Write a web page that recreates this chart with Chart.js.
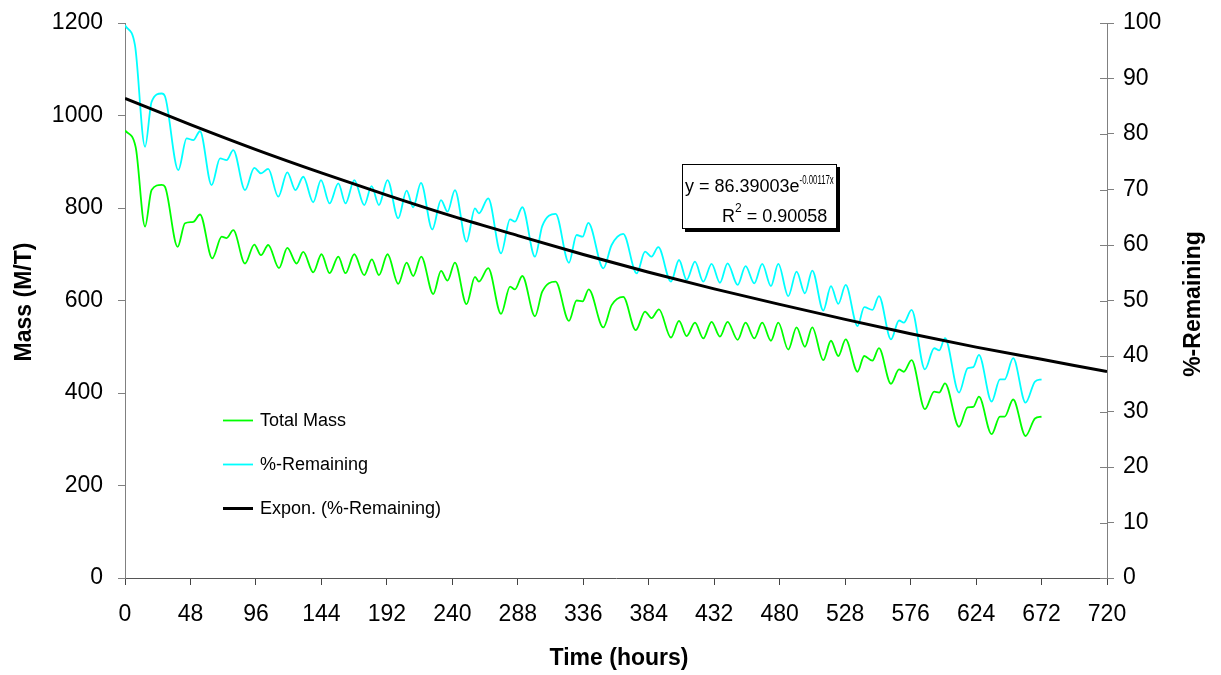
<!DOCTYPE html>
<html>
<head>
<meta charset="utf-8">
<script src="https://cdn.jsdelivr.net/npm/chart.js@4.4.1/dist/chart.umd.min.js"></script>
<style>
  body { margin: 0; background: #fff; }
  canvas { display: block; }
</style>
</head>
<body>
<canvas id="myChart" width="1221" height="675"></canvas>
<script>
// values (peaks / troughs of each daily swing)
const massHours = [0, 7.8, 14.7, 19.5, 26.9, 29.3, 38.6, 44, 50.1, 55, 64, 70.9, 74.5, 79.4, 88, 94.8, 99.7, 105, 112.9, 119, 125.8, 130.7, 138, 144.1,
  150, 156.4, 161.7, 168.1, 175.4, 181, 186.2, 192.5, 200.3, 206.5, 211.3, 217.2, 226, 231.7, 236.5, 241.9, 250.4, 256.6, 259.5, 266.3, 275.7,
  282.3, 285.9, 291.3, 300.6, 305.9, 315.7, 325.5, 331.1, 335.5, 340, 350.7, 356.8, 365.3, 374.5, 381.3, 386, 391.5, 400.3, 406.2, 411.8,
  417.9, 424, 430.1, 436.2, 441.8, 449.2, 455, 461.4, 467.2, 473.6, 479, 486.3, 492.4, 498.5, 503.9, 512, 517.6, 523, 528.4, 537.1, 542,
  548, 552.8, 561.6, 567.5, 571, 576.7, 586.5, 593.3, 597, 601.2, 611.5, 617.8, 622, 626.1, 635.4, 641.5, 645, 651.2, 660.3, 667.2, 672];
const massValues = [968, 932, 760, 839, 850, 846, 716, 767, 770, 786, 691, 738, 735, 752, 680, 721, 698, 720, 670, 714, 680, 705, 661, 700,
  659, 695, 659, 700, 655, 689, 655, 700, 636, 682, 653, 695, 614, 664, 643, 682, 592, 651, 641, 670, 571,
  630, 624, 653, 566, 619, 641, 556, 600, 598, 624, 542, 590, 608, 536, 576, 562, 581, 520, 556, 523,
  552, 518, 554, 522, 554, 515, 552, 518, 552, 513, 552, 494, 542, 500, 542, 471, 513, 480, 516, 446, 480,
  470, 497, 420, 451, 446, 471, 365, 403, 401, 421, 327, 369, 370, 392, 311, 349, 349, 386, 307, 345, 349];

const pctHours = [0, 7.3, 14.7, 19.5, 26.9, 29.3, 39.1, 45.2, 50.1, 55, 63.5, 69.7, 74.5, 79.4, 88, 94.8, 99.7, 105, 112.4, 119, 125, 130.7, 138, 143.7,
  150, 156.4, 161.7, 168.1, 175.4, 180.8, 186.2, 192.5, 200.3, 206.5, 211.3, 217, 225.3, 231.7, 236.5, 241.9, 250.4, 256.6, 259.5, 266.3, 275.7,
  282.3, 285.9, 291.3, 300.6, 305.9, 315.7, 325.5, 331.1, 335.5, 339.7, 350.7, 356.8, 365.3, 375.2, 381.3, 386, 391, 400.3, 406.2, 411.8,
  417.9, 424, 430.1, 436.2, 441.8, 449.2, 455, 461.4, 467.2, 473.6, 479, 486.3, 492.4, 498.5, 503.9, 512, 517.6, 523, 528.4, 537.1, 542,
  548, 552.8, 561.6, 567.5, 571, 576.7, 586.5, 593.3, 597, 601.2, 611.5, 617.8, 622, 626.1, 635.4, 641.5, 645, 651.2, 660.3, 667.2, 672];
const pctValues = [99.6, 96, 77.7, 85.8, 87.3, 86.8, 73.5, 79.2, 78.9, 80.5, 70.8, 75.6, 75.3, 77.1, 69.9, 73.9, 72.9, 73.7, 68.7, 73.1, 69.9, 72.3, 67.7, 71.7,
  67.5, 71.1, 67.5, 71.7, 67.2, 70.6, 67.2, 71.7, 64.8, 69.8, 66.8, 71.2, 62.8, 68.1, 66, 69.9, 60.6, 66.6, 65.7, 68.4, 58.5,
  64.6, 64.2, 66.8, 57.9, 63.4, 65.6, 56.8, 61.8, 61.5, 64, 55.8, 60, 62, 54.9, 58.8, 57.9, 59.6, 53.4, 57.3, 53.7,
  57, 53.4, 56.6, 53.2, 56.7, 52.8, 56.2, 53.1, 56.6, 52.6, 56.6, 50.8, 55.2, 51.3, 55.4, 48.2, 52.6, 49.4, 52.8, 45.4, 48.8,
  48.3, 50.8, 43, 46.4, 46, 48.3, 37.6, 41.4, 41, 43.2, 33.4, 37.8, 38, 40.2, 31.8, 35.8, 35.8, 39.6, 31.6, 35.4, 35.8];

const trendHours = [0, 48, 96, 144, 192, 240, 288, 336, 384, 432, 480, 528, 576, 624, 672, 720];
const trendValues = [86.4, 81.7, 77.2, 73.0, 69.0, 65.2, 61.7, 58.3, 55.1, 52.1, 49.3, 46.6, 44.0, 41.6, 39.4, 37.2];

const seriesLabels = ['Total Mass', '%-Remaining', 'Expon. (%-Remaining)'];
const seriesColors = ['#00ff00', '#00ffff', '#000000'];
const seriesWidths = [1.8, 1.8, 3];

const FONT = "'Liberation Sans', Arial, sans-serif";

function pts(xs, ys) {
  return xs.map((x, i) => ({ x: x, y: ys[i] }));
}

// legend, equation box, axis titles and crossing ticks on the right axis
const decor = {
  id: 'decor',
  afterDraw(chart) {
    const ctx = chart.ctx;
    const area = chart.chartArea;
    const y1 = chart.scales.y1;
    ctx.save();

    // inner half of the right axis ticks
    ctx.strokeStyle = '#808080';
    ctx.lineWidth = 1;
    y1.ticks.forEach(t => {
      const py = Math.round(y1.getPixelForValue(t.value)) + 0.5;
      ctx.beginPath();
      ctx.moveTo(area.right - 7, py);
      ctx.lineTo(area.right, py);
      ctx.stroke();
    });

    // axis titles
    ctx.fillStyle = '#000';
    ctx.font = 'bold 23px ' + FONT;
    ctx.textAlign = 'center';
    ctx.textBaseline = 'middle';
    ctx.save();
    ctx.translate(25, 302);
    ctx.rotate(-Math.PI / 2);
    ctx.fillText('Mass (M/T)', 0, 0);
    ctx.restore();
    ctx.save();
    ctx.translate(1194, 304);
    ctx.rotate(-Math.PI / 2);
    ctx.fillText('%-Remaining', 0, 0);
    ctx.restore();
    ctx.textBaseline = 'alphabetic';
    ctx.fillText('Time (hours)', 619, 665);

    // legend
    const legY = [420.5, 464.5, 508.5];
    ctx.font = '18px ' + FONT;
    ctx.textAlign = 'left';
    ctx.textBaseline = 'middle';
    seriesLabels.forEach((lab, i) => {
      ctx.strokeStyle = seriesColors[i];
      ctx.lineWidth = seriesWidths[i];
      ctx.beginPath();
      ctx.moveTo(223, legY[i]);
      ctx.lineTo(253, legY[i]);
      ctx.stroke();
      ctx.fillStyle = '#000';
      ctx.fillText(lab, 260, legY[i] + 1);
    });

    // trendline equation box
    ctx.fillStyle = '#000';
    ctx.fillRect(685, 167, 155, 65);
    ctx.fillStyle = '#fff';
    ctx.fillRect(682, 164, 155, 65);
    ctx.strokeStyle = '#000';
    ctx.lineWidth = 1;
    ctx.strokeRect(682.5, 164.5, 154, 64);
    ctx.fillStyle = '#000';
    ctx.textBaseline = 'alphabetic';
    ctx.font = '18px ' + FONT;
    const eq = 'y = 86.39003e';
    ctx.fillText(eq, 685, 192);
    let ex = 685 + ctx.measureText(eq).width;
    ctx.save();
    ctx.translate(ex, 184);
    ctx.scale(0.6, 1);
    ctx.font = '13px ' + FONT;
    ctx.fillText('-0.00117x', 0, 0);
    ctx.restore();
    ctx.font = '18px ' + FONT;
    ctx.fillText('R', 722, 222);
    ex = 722 + ctx.measureText('R').width;
    ctx.font = '12px ' + FONT;
    ctx.fillText('2', ex, 212);
    ex += ctx.measureText('2').width;
    ctx.font = '18px ' + FONT;
    ctx.fillText(' = 0.90058', ex, 222);

    ctx.restore();
  }
};

const plain = v => String(v);

// keep the plot box where the reference has it
function fixVertical(width) {
  return s => {
    s.width = width;
    s.paddingTop = 0;
    s.paddingBottom = 0;
  };
}

const ctx = document.getElementById('myChart').getContext('2d');
const chart = new Chart(ctx, {
  type: 'line',
  data: {
    datasets: [
      {
        label: seriesLabels[0],
        data: pts(massHours, massValues),
        yAxisID: 'y',
        borderColor: seriesColors[0],
        borderWidth: seriesWidths[0],
        pointRadius: 0,
        cubicInterpolationMode: 'monotone',
        order: 1
      },
      {
        label: seriesLabels[1],
        data: pts(pctHours, pctValues),
        yAxisID: 'y1',
        borderColor: seriesColors[1],
        borderWidth: seriesWidths[1],
        pointRadius: 0,
        cubicInterpolationMode: 'monotone',
        order: 2
      },
      {
        label: seriesLabels[2],
        data: pts(trendHours, trendValues),
        yAxisID: 'y1',
        borderColor: seriesColors[2],
        borderWidth: seriesWidths[2],
        pointRadius: 0,
        cubicInterpolationMode: 'monotone',
        order: 0
      }
    ]
  },
  options: {
    responsive: false,
    animation: false,
    layout: { padding: { top: 23, left: 0, right: 0, bottom: 0 } },
    plugins: {
      legend: { display: false },
      tooltip: { enabled: false }
    },
    scales: {
      x: {
        type: 'linear',
        min: 0,
        max: 720,
        ticks: { stepSize: 48, color: '#000', font: { family: FONT, size: 23 }, padding: 16, maxRotation: 0, callback: plain },
        grid: { drawOnChartArea: false, tickLength: 7, color: '#444' },
        border: { color: '#555', width: 1 },
        afterFit(s) { s.height = 97; s.paddingLeft = 0; s.paddingRight = 0; }
      },
      y: {
        position: 'left',
        min: 0,
        max: 1200,
        ticks: { stepSize: 200, color: '#000', font: { family: FONT, size: 23 }, padding: 15, callback: plain },
        grid: { drawOnChartArea: false, tickLength: 7, color: '#808080' },
        border: { color: '#808080', width: 1 },
        afterFit: fixVertical(125)
      },
      y1: {
        position: 'right',
        min: 0,
        max: 100,
        ticks: { stepSize: 10, color: '#000', font: { family: FONT, size: 23 }, padding: 9, callback: plain },
        grid: { drawOnChartArea: false, tickLength: 7, color: '#808080' },
        border: { color: '#808080', width: 1 },
        afterFit: fixVertical(114)
      }
    }
  },
  plugins: [decor]
});
</script>
</body>
</html>
